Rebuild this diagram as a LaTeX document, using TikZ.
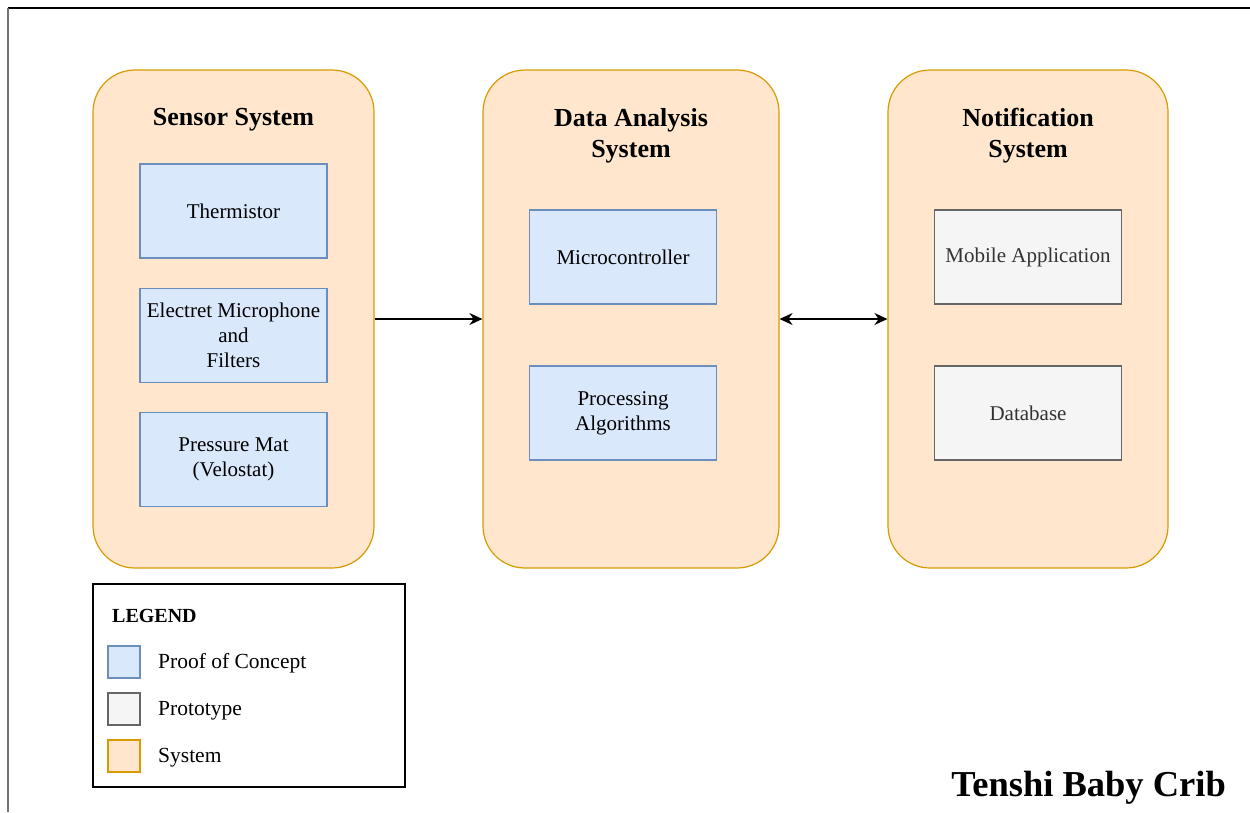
\documentclass[tikz,border=0pt]{standalone}
\usepackage{fontspec}
\setmainfont{Liberation Serif}
\usetikzlibrary{arrows.meta}
\definecolor{sysfill}{HTML}{FFE6CC}
\definecolor{sysline}{HTML}{D79B00}
\definecolor{pocfill}{HTML}{DAE8FC}
\definecolor{pocline}{HTML}{6C8EBF}
\definecolor{protofill}{HTML}{F5F5F5}
\definecolor{protoline}{HTML}{666666}
\definecolor{prototext}{HTML}{333333}
\tikzset{
  system/.style={draw=sysline, fill=sysfill, line width=1.2pt, rounded corners=42pt,
    minimum height=498pt, inner sep=0pt},
  systitle/.style={font=\fontsize{26}{31}\selectfont\bfseries, align=center, inner sep=0pt},
  poc/.style={draw=pocline, fill=pocfill, line width=1.2pt, minimum width=187pt,
    minimum height=94pt, align=center, inner sep=0pt,
    font=\fontsize{21}{25}\selectfont},
  proto/.style={draw=protoline, fill=protofill, line width=1.2pt, minimum width=187pt,
    minimum height=94pt, align=center, inner sep=0pt, text=prototext,
    font=\fontsize{21}{25}\selectfont},
  swatch/.style={line width=1.2pt, minimum width=32pt, minimum height=32pt, inner sep=0pt},
  legtext/.style={anchor=west, inner sep=0pt, font=\fontsize{21.5}{25}\selectfont},
  tip/.style={Stealth[length=13pt,width=12pt]},
  link/.style={line width=1.3pt, -{Stealth[length=13pt,width=12pt]}},
  bilink/.style={line width=1.3pt, {Stealth[length=13pt,width=12pt]}-{Stealth[length=13pt,width=12pt]}}
}
\begin{document}
\begin{tikzpicture}[x=1pt, y=-1pt]
\useasboundingbox (0,0) rectangle (1250,812);
% page frame
\draw[black, line width=2pt] (8,8) -- (1250,8);
\draw[black!55, line width=2pt] (8,8) -- (8,812);

% system containers
\node[system, minimum width=281pt] (sensor) at (233.5,319) {};
\node[system, minimum width=296pt] (data) at (631,319) {};
\node[system, minimum width=280pt] (notif) at (1028,319) {};

\node[systitle] (sensorT) at (233.5,120) {Sensor System};
\node[systitle] (dataT) at (631,135.5) {Data Analysis\\System};
\node[systitle] (notifT) at (1028,135.5) {Notification\\System};

% sensor components
\node[poc] (therm) at (233.5,211) {Thermistor};
\node[poc] (mic) at (233.5,335.5) {Electret Microphone\\and\\Filters};
\node[poc] (mat) at (233.5,459.5) {Pressure Mat\\(Velostat)};

% analysis components
\node[poc] (mcu) at (623,257) {Microcontroller};
\node[poc] (algo) at (623,413) {Processing\\Algorithms};

% notification components
\node[proto] (app) at (1028,257) {Mobile Application};
\node[proto] (db) at (1028,413) {Database};

% data flow
\draw[link] (sensor.east) -- (data.west);
\draw[bilink] (data.east) -- (notif.west);

% legend
\node[draw=black, line width=1.2pt, minimum width=312pt, minimum height=203pt, inner sep=0pt] (legend) at (249,685.5) {};
\node[anchor=west, inner sep=0pt, font=\fontsize{20}{24}\selectfont\bfseries] (legT) at (112,616) {LEGEND};
\node[swatch, draw=pocline, fill=pocfill] (swP) at (124,662) {};
\node[swatch, draw=protoline, fill=protofill] (swR) at (124,709) {};
\node[swatch, draw=sysline, fill=sysfill] (swS) at (124,756) {};
\node[legtext] (lP) at (158,663.5) {Proof of Concept};
\node[legtext] (lR) at (158,710.5) {Prototype};
\node[legtext] (lS) at (158,757.5) {System};

% title
\node[anchor=east, inner sep=0pt, font=\fontsize{36.5}{42}\selectfont\bfseries] (title) at (1226,788) {Tenshi Baby Crib};
\end{tikzpicture}
\end{document}
